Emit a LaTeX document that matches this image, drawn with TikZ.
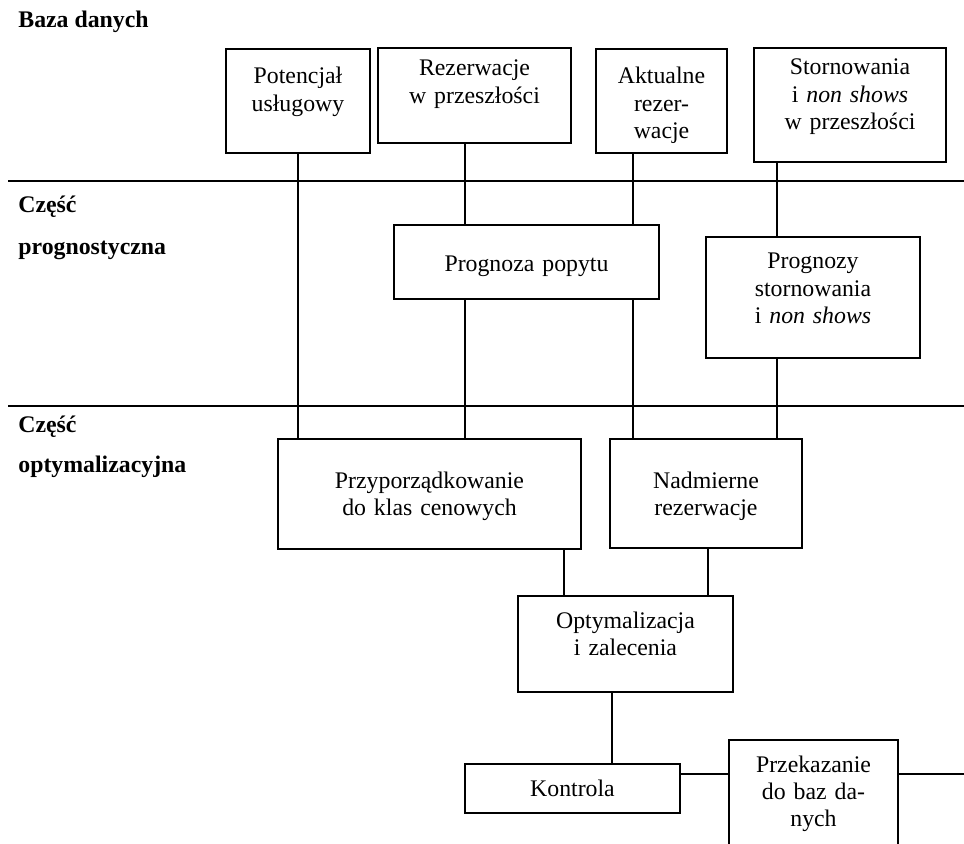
\documentclass[tikz,border=0pt]{standalone}
\usepackage{fontspec}
\setmainfont{Liberation Serif}
\usetikzlibrary{positioning}

\begin{document}
\begin{tikzpicture}[x=0.5pt,y=-0.5pt,
  blok/.style={draw=black, line width=1pt, anchor=north west, inner sep=0pt, align=center,
    font=\fontsize{11.9}{13.6}\selectfont},
  etykieta/.style={anchor=base west, inner sep=0pt, font=\fontsize{11.9}{13.6}\selectfont\bfseries},
  lacze/.style={draw=black, line width=1pt},
  podzial/.style={draw=black, line width=0.8pt}]
\useasboundingbox (0,0) rectangle (964,844);
\clip (0,0) rectangle (964,844);
\draw[podzial] (8,181) -- (964,181);
\draw[podzial] (8,406) -- (964,406);
\node[etykieta] (baza) at (18,28) {Baza danych};
\node[etykieta] (czesc1) at (18,213) {Część};
\node[etykieta] (progn1) at (18,255) {prognostyczna};
\node[etykieta] (czesc2) at (18,433) {Część};
\node[etykieta] (optym1) at (18,473) {optymalizacyjna};
\node[blok, text width=72pt, text height=17.5pt, text depth=34.5pt] (pot) at (225,48) {Potencjał\\usługowy};
\node[blok, text width=96.5pt, text height=14pt, text depth=33.5pt] (rez) at (377,47) {Rezerwacje\\w przeszłości};
\node[blok, text width=65.5pt, text height=17.5pt, text depth=34.5pt] (akt) at (595,48) {Aktualne\\rezer-\\wacje};
\node[blok, text width=96pt, text height=13.5pt, text depth=43.5pt] (storn) at (753,47) {Stornowania\\i \textit{non shows}\\w przeszłości};
\node[blok, text width=132.5pt, text height=23.5pt, text depth=13.5pt] (popyt) at (393,224) {Prognoza popytu};
\node[blok, text width=107pt, text height=16pt, text depth=44.5pt] (progn) at (705,236) {Prognozy\\stornowania\\i \textit{non shows}};
\node[blok, text width=151.5pt, text height=24.5pt, text depth=30.5pt] (przyp) at (277,438) {Przyporządkowanie\\do klas cenowych};
\node[blok, text width=96pt, text height=24.5pt, text depth=30pt] (nadm) at (609,438) {Nadmierne\\rezerwacje};
\node[blok, text width=107.5pt, text height=16pt, text depth=32pt] (optym) at (517,595) {Optymalizacja\\i zalecenia};
\node[blok, text width=107.5pt, text height=16pt, text depth=8.5pt] (kontr) at (464,763) {Kontrola};
\node[blok, text width=84.5pt, text height=16pt, text depth=49.5pt] (przek) at (728,739) {Przekazanie\\do baz da-\\nych};
\coordinate (osA) at (465,0);
\coordinate (osB) at (633,0);
\coordinate (osC) at (777,0);
\coordinate (osD) at (564,0);
\coordinate (osE) at (708,0);
\coordinate (osF) at (612,0);
\coordinate (osY) at (0,774);
\coordinate (koniec) at (964,774);
\draw[lacze] (pot.south) -- (pot.south |- przyp.north);
\draw[lacze] (rez.south -| osA) -- (popyt.north -| osA);
\draw[lacze] (akt.south -| osB) -- (popyt.north -| osB);
\draw[lacze] (popyt.south -| osA) -- (przyp.north -| osA);
\draw[lacze] (popyt.south -| osB) -- (nadm.north -| osB);
\draw[lacze] (storn.south -| osC) -- (progn.north -| osC);
\draw[lacze] (progn.south -| osC) -- (nadm.north -| osC);
\draw[lacze] (przyp.south -| osD) -- (optym.north -| osD);
\draw[lacze] (nadm.south -| osE) -- (optym.north -| osE);
\draw[lacze] (optym.south -| osF) -- (kontr.north -| osF);
\draw[lacze] (kontr.east |- osY) -- (przek.west |- osY);
\draw[lacze] (przek.east |- osY) -- (koniec);
\end{tikzpicture}
\end{document}
